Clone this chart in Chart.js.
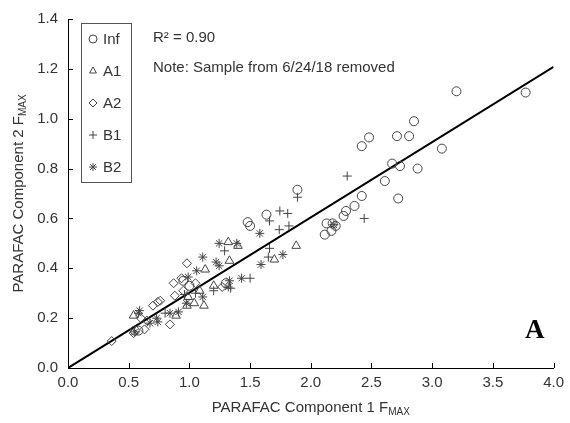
<!DOCTYPE html>
<html>
<head>
<meta charset="utf-8">
<script src="https://cdn.jsdelivr.net/npm/chart.js@4/dist/chart.umd.min.js"></script>
<style>
  html, body { margin: 0; padding: 0; background: #fff; }
  #wrap { width: 570px; height: 423px; }
</style>
</head>
<body>
<div id="wrap"><canvas id="mycanvas"></canvas></div>
<script>
// values
var infX = [3.20, 3.77, 2.85, 2.71, 2.81, 2.48, 2.42, 3.08, 2.67, 2.735, 2.88, 2.61, 2.42, 2.72, 2.36, 2.29, 2.27, 1.89, 1.635, 1.48, 1.50, 2.13, 2.115, 2.17, 2.205, 2.18, 0.55, 0.58, 0.95, 1.00, 1.30];
var infY = [1.11, 1.105, 0.99, 0.93, 0.93, 0.925, 0.89, 0.88, 0.82, 0.81, 0.80, 0.75, 0.69, 0.68, 0.65, 0.63, 0.61, 0.715, 0.615, 0.585, 0.57, 0.58, 0.535, 0.55, 0.57, 0.58, 0.15, 0.15, 0.35, 0.33, 0.34];

var a1X = [1.88, 1.32, 1.40, 1.33, 1.13, 1.70, 1.12, 1.04, 0.99, 0.54, 0.89, 1.085, 0.98, 1.20];
var a1Y = [0.49, 0.505, 0.49, 0.43, 0.395, 0.435, 0.25, 0.26, 0.285, 0.21, 0.21, 0.31, 0.25, 0.33];

var a2X = [0.98, 0.36, 0.87, 0.935, 0.76, 0.70, 0.84, 0.88, 0.65, 0.54, 1.27, 0.95, 0.63, 0.74, 0.60, 1.05];
var a2Y = [0.42, 0.108, 0.34, 0.36, 0.27, 0.25, 0.175, 0.29, 0.19, 0.14, 0.325, 0.31, 0.155, 0.265, 0.20, 0.34];

var b1X = [1.89, 1.745, 1.81, 1.66, 1.74, 1.82, 1.66, 1.65, 1.50, 1.29, 1.20, 1.34, 0.96, 2.30, 2.44, 1.05, 0.80];
var b1Y = [0.685, 0.63, 0.62, 0.59, 0.555, 0.57, 0.48, 0.445, 0.36, 0.47, 0.31, 0.32, 0.295, 0.77, 0.60, 0.30, 0.22];

var b2X = [1.58, 1.245, 1.39, 1.11, 1.22, 1.245, 1.06, 1.77, 1.59, 1.43, 1.33, 1.32, 1.11, 0.975, 0.91, 0.84, 0.73, 0.74, 0.58, 0.59, 0.55, 0.675, 0.99, 2.19];
var b2Y = [0.54, 0.50, 0.50, 0.445, 0.425, 0.41, 0.39, 0.455, 0.415, 0.36, 0.35, 0.325, 0.285, 0.26, 0.225, 0.22, 0.20, 0.185, 0.22, 0.23, 0.145, 0.18, 0.365, 0.575];

// fitted line
var fitX = [0, 4.0];
var fitY = [0, 1.208];

var seriesNames = ['Inf', 'A1', 'A2', 'B1', 'B2'];
var xTicks = [0, 0.5, 1.0, 1.5, 2.0, 2.5, 3.0, 3.5, 4.0];
var yTicks = [0, 0.2, 0.4, 0.6, 0.8, 1.0, 1.2, 1.4];

function pts(xs, ys) {
	var out = [];
	for (var i in xs) {
		out.push({x: xs[i], y: ys[i]});
	}
	return out;
}

var markColor = '#444';
var styles = [
	{pointStyle: 'circle', radius: 4.5},
	{pointStyle: 'triangle', radius: 5},
	{pointStyle: 'rectRot', radius: 4.5},
	{pointStyle: 'cross', radius: 4.5},
	{pointStyle: 'star', radius: 4.5}
];

function scatterSet(i, xs, ys) {
	return {
		type: 'scatter',
		label: seriesNames[i],
		data: pts(xs, ys),
		pointStyle: styles[i].pointStyle,
		pointRadius: styles[i].radius,
		pointBorderWidth: 1,
		borderColor: markColor,
		backgroundColor: 'rgba(0,0,0,0)'
	};
}

var FONT = 'Arial, "Liberation Sans", sans-serif';

// inside ticks, titles with subscripts, legend box and labels
var extras = {
	id: 'extras',
	afterDraw: function(chart) {
		var ctx = chart.ctx;
		var xs = chart.scales.x, ys = chart.scales.y;
		var area = chart.chartArea;
		ctx.save();
		ctx.strokeStyle = '#000';
		ctx.lineWidth = 1;
		ctx.beginPath();
		xTicks.forEach(function(v) {
			var px = Math.round(xs.getPixelForValue(v)) + 0.5;
			ctx.moveTo(px, area.bottom);
			ctx.lineTo(px, area.bottom - 5);
		});
		yTicks.forEach(function(v) {
			var py = Math.round(ys.getPixelForValue(v)) + 0.5;
			ctx.moveTo(area.left, py);
			ctx.lineTo(area.left + 5, py);
		});
		ctx.stroke();

		// axis titles
		ctx.fillStyle = '#333';
		ctx.textBaseline = 'alphabetic';
		var main = 'PARAFAC Component 1 F';
		ctx.font = '15px ' + FONT;
		var w1 = ctx.measureText(main).width;
		ctx.font = '10px ' + FONT;
		var w2 = ctx.measureText('MAX').width;
		var cx = (area.left + area.right) / 2;
		var sx = cx - (w1 + w2) / 2;
		ctx.font = '15px ' + FONT;
		ctx.textAlign = 'left';
		ctx.fillText(main, sx, 412);
		ctx.font = '10px ' + FONT;
		ctx.fillText('MAX', sx + w1, 415);

		ctx.save();
		ctx.translate(23, (area.top + area.bottom) / 2);
		ctx.rotate(-Math.PI / 2);
		var ymain = 'PARAFAC Component 2 F';
		ctx.font = '15px ' + FONT;
		var h1 = ctx.measureText(ymain).width;
		var start = -(h1 + w2) / 2;
		ctx.fillText(ymain, start, 0);
		ctx.font = '10px ' + FONT;
		ctx.fillText('MAX', start + h1, 3);
		ctx.restore();

		// legend box
		ctx.strokeStyle = '#555';
		ctx.strokeRect(81.5, 23.5, 50, 159);
		for (var i = 0; i < seriesNames.length; i++) {
			var ly = 39 + i * 32;
			ctx.fillStyle = 'rgba(0,0,0,0)';
			ctx.strokeStyle = markColor;
			ctx.lineWidth = 1;
			Chart.helpers.drawPoint(ctx, {
				pointStyle: styles[i].pointStyle,
				radius: 4,
				borderWidth: 1,
				rotation: 0
			}, 93, ly);
			ctx.font = '15px ' + FONT;
			ctx.fillStyle = '#333';
			ctx.textBaseline = 'middle';
			ctx.fillText(seriesNames[i], 103, ly + 1);
		}

		// notes
		ctx.fillStyle = '#333';
		ctx.textBaseline = 'middle';
		ctx.font = '15px ' + FONT;
		ctx.fillText('R\u00B2 = 0.90', 153, 38);
		ctx.fillText('Note: Sample from 6/24/18 removed', 153, 68);

		ctx.font = 'bold 27px "Times New Roman", "Liberation Serif", serif';
		ctx.fillStyle = '#000';
		ctx.fillText('A', 525, 331);
		ctx.restore();
	}
};

var datasets = [
	scatterSet(0, infX, infY),
	scatterSet(1, a1X, a1Y),
	scatterSet(2, a2X, a2Y),
	scatterSet(3, b1X, b1Y),
	scatterSet(4, b2X, b2Y),
	{
		type: 'line',
		label: 'fit',
		data: pts(fitX, fitY),
		borderColor: '#000',
		borderWidth: 2,
		pointRadius: 0,
		fill: false
	}
];

var ctx = document.getElementById('mycanvas');

var scatterChart = new Chart(ctx, {
	type: 'scatter',
	data: { datasets: datasets },
	plugins: [extras],
	options: {
		responsive: true,
		maintainAspectRatio: false,
		animation: false,
		layout: { padding: { top: 18, right: 15, left: 0, bottom: 0 } },
		plugins: {
			legend: { display: false },
			tooltip: { enabled: false }
		},
		scales: {
			x: {
				type: 'linear',
				min: 0,
				max: 4,
				afterBuildTicks: function(axis) {
					axis.ticks = xTicks.map(function(v) { return {value: v}; });
				},
				afterFit: function(axis) { axis.height = 55; },
				grid: { drawOnChartArea: false, drawTicks: false },
				border: { color: '#000', width: 1 },
				ticks: {
					padding: 6,
					color: '#333',
					font: { size: 15, family: FONT },
					callback: function(v) { return v.toFixed(1); }
				}
			},
			y: {
				type: 'linear',
				min: 0,
				max: 1.4,
				afterBuildTicks: function(axis) {
					axis.ticks = yTicks.map(function(v) { return {value: v}; });
				},
				afterFit: function(axis) { axis.width = 68; },
				grid: { drawOnChartArea: false, drawTicks: false },
				border: { color: '#000', width: 1 },
				ticks: {
					padding: 10,
					color: '#333',
					font: { size: 15, family: FONT },
					callback: function(v) { return v.toFixed(1); }
				}
			}
		}
	}
});
</script>
</body>
</html>
